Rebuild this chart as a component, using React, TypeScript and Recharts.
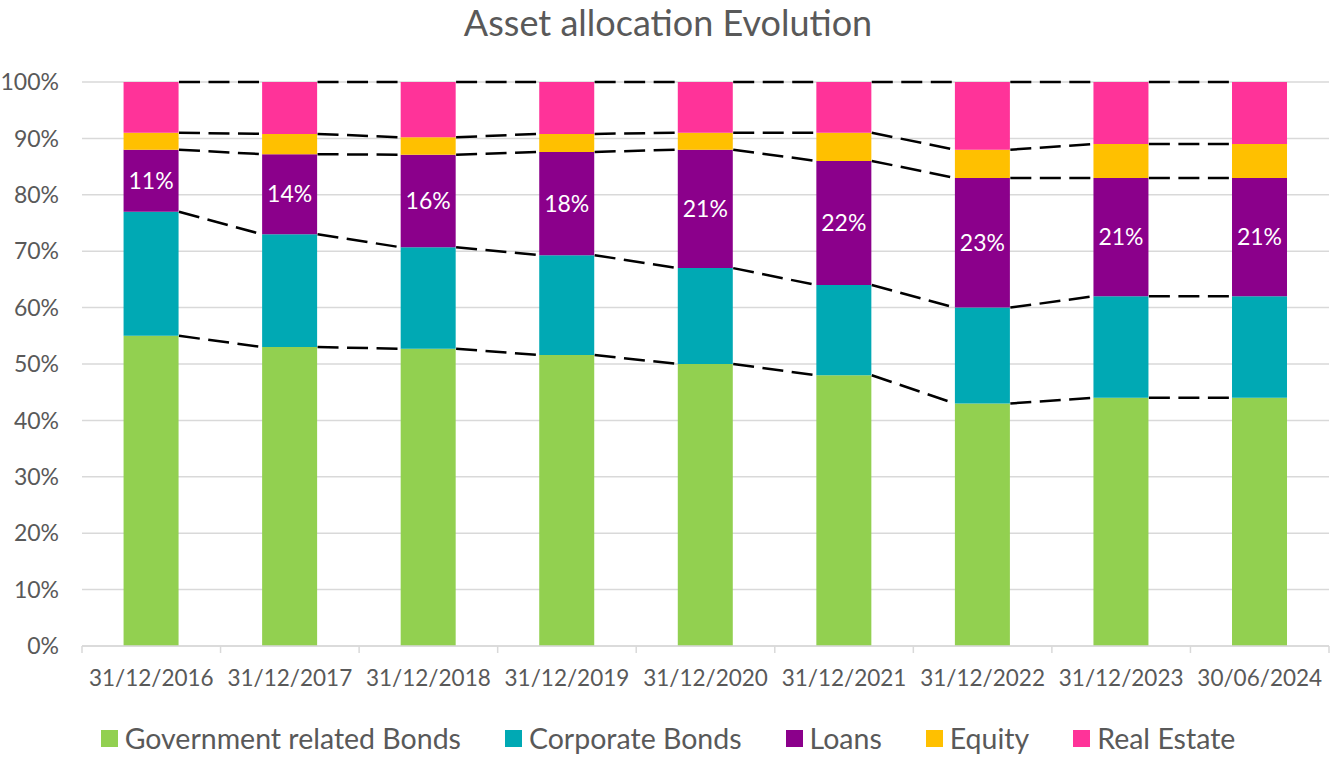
import React from 'react';
import {
  Bar,
  CartesianGrid,
  ComposedChart,
  LabelList,
  Line,
  XAxis,
  YAxis,
} from 'recharts';

const dates = [
  '31/12/2016',
  '31/12/2017',
  '31/12/2018',
  '31/12/2019',
  '31/12/2020',
  '31/12/2021',
  '31/12/2022',
  '31/12/2023',
  '30/06/2024',
];
const gov = [55, 53, 52.7, 51.6, 50, 48, 43, 44, 44];
const corp = [22, 20, 18, 17.7, 17, 16, 17, 18, 18];
const loans = [11, 14.2, 16.4, 18.3, 21, 22, 23, 21, 21];
const equity = [3, 3.6, 3.1, 3.2, 3, 5, 5, 6, 6];
const realEstate = [9, 9.2, 9.8, 9.2, 9, 9, 12, 11, 11];
const yTicks = [0, 10, 20, 30, 40, 50, 60, 70, 80, 90, 100];

const series = [
  { key: 'gov', name: 'Government related Bonds', color: '#92D050' },
  { key: 'corp', name: 'Corporate Bonds', color: '#00A9B4' },
  { key: 'loans', name: 'Loans', color: '#8B008B' },
  { key: 'equity', name: 'Equity', color: '#FFC000' },
  { key: 'realEstate', name: 'Real Estate', color: '#FF3399' },
];

const FONT = 'Lato, "Open Sans", sans-serif';
const TEXT = '#595959';
const GRID = '#D9D9D9';

const data = dates.map((date, i) => ({
  date,
  gov: gov[i],
  corp: corp[i],
  loans: loans[i],
  equity: equity[i],
  realEstate: realEstate[i],
}));

// running tops of each segment, used for the Excel style series lines
const tops = dates.map((_, i) => {
  const a = gov[i];
  const b = a + corp[i];
  const c = b + loans[i];
  const d = c + equity[i];
  return [a, b, c, d, d + realEstate[i]];
});

// bar edges sit at +-0.2 of a category (barCategoryGap 30%)
const HALF = 0.2;
const seriesLines: Record<string, number | null>[] = [];
for (let i = 0; i < dates.length - 1; i++) {
  const from: Record<string, number | null> = { x: i + HALF };
  const to: Record<string, number | null> = { x: i + 1 - HALF };
  const gap: Record<string, number | null> = { x: i + 1 };
  for (let k = 0; k < 5; k++) {
    from['b' + k] = tops[i][k];
    to['b' + k] = tops[i + 1][k];
    gap['b' + k] = null;
  }
  seriesLines.push(from, to, gap);
}

function DateTick(props: any) {
  const { x, y, payload, index } = props;
  const half = payload.offset ?? 0;
  return (
    <g>
      <line x1={x - half} x2={x - half} y1={y} y2={y + 7} stroke={GRID} strokeWidth={1.5} />
      {index === dates.length - 1 && (
        <line x1={x + half} x2={x + half} y1={y} y2={y + 7} stroke={GRID} strokeWidth={1.5} />
      )}
      <text x={x} y={y + 40} textAnchor="middle" fill={TEXT} fontSize={22.5} fontFamily={FONT}>
        {payload.value}
      </text>
    </g>
  );
}

export default function App() {
  return (
    <div
      style={{
        position: 'absolute',
        left: 0,
        top: 0,
        width: 1336,
        height: 759,
        background: '#fff',
        fontFamily: FONT,
      }}
    >
      <div
        style={{
          position: 'absolute',
          top: 0,
          width: '100%',
          textAlign: 'center',
          fontSize: 36,
          lineHeight: '44px',
          color: TEXT,
        }}
      >
        Asset allocation Evolution
      </div>

      <ComposedChart
        width={1336}
        height={759}
        data={data}
        barCategoryGap="30%"
        margin={{ top: 82, right: 7, left: 0, bottom: 46 }}
      >
        <CartesianGrid xAxisId="cat" vertical={false} stroke={GRID} strokeWidth={1.5} />
        <XAxis
          xAxisId="cat"
          dataKey="date"
          height={67}
          interval={0}
          tickLine={false}
          tickSize={0}
          tickMargin={0}
          axisLine={{ stroke: GRID, strokeWidth: 1.5 }}
          tick={<DateTick />}
        />
        <XAxis
          xAxisId="num"
          dataKey="x"
          type="number"
          domain={[-0.5, dates.length - 0.5]}
          allowDataOverflow
          hide
        />
        <YAxis
          domain={[0, 100]}
          ticks={yTicks}
          width={82}
          axisLine={false}
          tickLine={false}
          tickMargin={17}
          tickFormatter={(v) => `${v}%`}
          tick={{ fill: TEXT, fontSize: 23, fontFamily: FONT }}
        />
        {series.map((s) => (
          <Bar
            key={s.key}
            xAxisId="cat"
            dataKey={s.key}
            name={s.name}
            stackId="a"
            fill={s.color}
            isAnimationActive={false}
          >
            {s.key === 'loans' && (
              <LabelList
                dataKey="loans"
                position="center"
                fill="#fff"
                fontSize={23}
                fontFamily={FONT}
                formatter={(v: any) => `${Math.round(Number(v))}%`}
              />
            )}
          </Bar>
        ))}
        {[0, 1, 2, 3, 4].map((k) => (
          <Line
            key={k}
            xAxisId="num"
            data={seriesLines}
            dataKey={'b' + k}
            type="linear"
            stroke="#000"
            strokeWidth={2.5}
            strokeDasharray="21 8.5"
            dot={false}
            activeDot={false}
            connectNulls={false}
            legendType="none"
            isAnimationActive={false}
          />
        ))}
      </ComposedChart>

      <div
        style={{
          position: 'absolute',
          top: 719,
          width: '100%',
          display: 'flex',
          justifyContent: 'center',
          gap: 44,
          fontSize: 28.5,
          lineHeight: '38px',
          color: TEXT,
        }}
      >
        {series.map((s) => (
          <div key={s.key} style={{ display: 'flex', alignItems: 'center' }}>
            <span
              style={{
                display: 'inline-block',
                width: 17,
                height: 17,
                background: s.color,
                marginRight: 7,
              }}
            />
            {s.name}
          </div>
        ))}
      </div>
    </div>
  );
}
